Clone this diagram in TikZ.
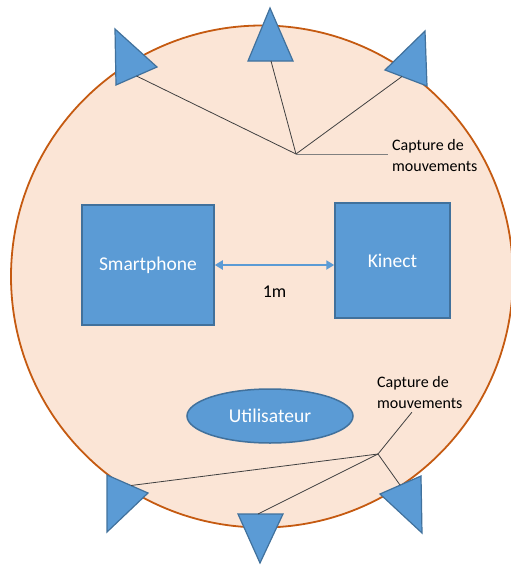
\documentclass[tikz,border=0pt]{standalone}
\usepackage{fontspec}
\setmainfont{Carlito}
\usepackage{tikz}
\usetikzlibrary{positioning}
\usetikzlibrary{calc}
\usetikzlibrary{arrows.meta}
\usetikzlibrary{shapes.geometric}

\definecolor{ZoneFill}{HTML}{FBE5D6}
\definecolor{ZoneLine}{HTML}{C55A11}
\definecolor{BoxFill}{HTML}{5B9BD5}
\definecolor{BoxLine}{HTML}{41719C}
\definecolor{WireGray}{HTML}{404040}
\definecolor{LeadGray}{HTML}{808080}

\tikzset{
	device/.style={draw=BoxLine, fill=BoxFill, line width=1.5pt, text=white, font=\fontsize{19.5}{23}\selectfont},
	camera/.style={draw=BoxLine, fill=BoxFill, line width=1.2pt, line join=miter},
	wire/.style={draw=WireGray, line width=0.8pt},
	caption/.style={align=left, inner sep=4pt, font=\fontsize{16}{21}\selectfont}
}

\begin{document}
\begin{tikzpicture}[x=1pt,y=-1pt]
	\useasboundingbox (0,0) rectangle (511,565);
	
	\draw[draw=ZoneLine, fill=ZoneFill, line width=1.8pt] (262,276.5) circle[radius=251];
	
	% ---
	
	\node[
	device,
	minimum width=132pt,
	minimum height=120pt
	] (Smartphone) at (148,265) {Smartphone};
	
	\node[
	device,
	minimum width=115pt,
	minimum height=115pt
	] (Kinect) at (392.5,260.5) {Kinect};
	
	\node[
	device,
	ellipse,
	minimum width=166pt,
	minimum height=54pt
	] (User) at (270,416) {Utilisateur};
	
	% ---
	
	\draw[camera] (115,29) -- (157,67) -- (116,85) -- cycle;
	\draw[camera] (270,8) -- (293,61) -- (248,61) -- cycle;
	\draw[camera] (425,31) -- (385,70) -- (427,86) -- cycle;
	
	\draw[camera] (107,475) -- (148,493) -- (107,532) -- cycle;
	\draw[camera] (238,514) -- (283,514) -- (260,563) -- cycle;
	\draw[camera] (421,476) -- (380,494) -- (422,533) -- cycle;
	
	\coordinate (CamTL) at (136.5,76);
	\coordinate (CamTM) at (271,61);
	\coordinate (CamTR) at (402,76.5);
	\coordinate (HubTop) at (296,154);
	
	\coordinate (CamBL) at (131,485.5);
	\coordinate (CamBM) at (258,514);
	\coordinate (CamBR) at (400,485);
	\coordinate (HubBot) at (378,454);
	
	% ---
	
	\node[
	caption,
	anchor=west
	] (CaptTop) at (388,156) {Capture de\\mouvements};
	
	\node[
	caption,
	anchor=west
	] (CaptBot) at (373,392) {Capture de\\mouvements};
	
	\draw[wire] (CamTL) -- (HubTop);
	\draw[wire] (CamTM) -- (HubTop);
	\draw[wire] (CamTR) -- (HubTop);
	\draw[draw=LeadGray, line width=1pt] (HubTop) -- (HubTop -| CaptTop.west);
	
	\draw[wire] (CamBL) -- (HubBot);
	\draw[wire] (CamBM) -- (HubBot);
	\draw[wire] (CamBR) -- (HubBot);
	\draw[wire] (HubBot) -- ([xshift=-8pt]CaptBot.south);
	
	% ---
	
	\draw[{Triangle[length=8pt,width=9pt]}-{Triangle[length=8pt,width=9pt]}, draw=BoxFill, fill=BoxFill, line width=2pt]
	(Smartphone.east) -- (Smartphone.east -| Kinect.west)
	node[midway, yshift=-27pt, text=black, font=\fontsize{18}{21}\selectfont]{1m};
\end{tikzpicture}
\end{document}
